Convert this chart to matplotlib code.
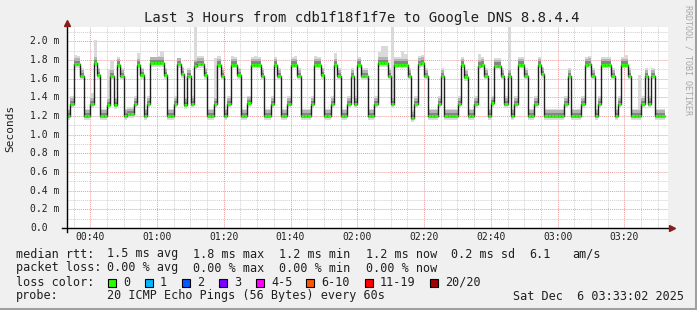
import numpy as np
import matplotlib
matplotlib.use('Agg')
import matplotlib.pyplot as plt
import matplotlib.transforms as mtrans
from matplotlib.patches import Rectangle

W, H = 697, 310
plt.rcParams['font.family'] = 'DejaVu Sans Mono'

# median rtt per minute (ms), first sample starts at 00:33:03
median = [1.20, 1.33, 1.76, 1.76, 1.63, 1.20, 1.20, 1.33, 1.77, 1.64,
          1.20, 1.20, 1.32, 1.63, 1.32, 1.75, 1.63, 1.20, 1.22, 1.22,
          1.33, 1.75, 1.64, 1.20, 1.33, 1.77, 1.77, 1.77, 1.77, 1.64,
          1.20, 1.20, 1.33, 1.76, 1.65, 1.32, 1.63, 1.33, 1.74, 1.76,
          1.76, 1.64, 1.20, 1.20, 1.33, 1.75, 1.63, 1.20, 1.33, 1.75,
          1.75, 1.64, 1.20, 1.20, 1.34, 1.75, 1.75, 1.75, 1.63, 1.20,
          1.20, 1.33, 1.75, 1.63, 1.20, 1.20, 1.33, 1.75, 1.75, 1.63,
          1.20, 1.20, 1.20, 1.33, 1.75, 1.75, 1.64, 1.20, 1.20, 1.33,
          1.75, 1.63, 1.20, 1.20, 1.33, 1.63, 1.33, 1.75, 1.63, 1.63,
          1.20, 1.20, 1.33, 1.77, 1.77, 1.77, 1.63, 1.33, 1.75, 1.75,
          1.75, 1.75, 1.63, 1.18, 1.33, 1.76, 1.77, 1.63, 1.20, 1.20,
          1.20, 1.33, 1.63, 1.20, 1.20, 1.20, 1.20, 1.33, 1.75, 1.62,
          1.20, 1.20, 1.33, 1.74, 1.75, 1.63, 1.20, 1.34, 1.74, 1.74,
          1.63, 1.33, 1.63, 1.20, 1.33, 1.75, 1.75, 1.63, 1.20, 1.20,
          1.33, 1.75, 1.65, 1.20, 1.20, 1.20, 1.20, 1.20, 1.20, 1.33,
          1.63, 1.20, 1.20, 1.20, 1.33, 1.75, 1.76, 1.63, 1.20, 1.33,
          1.75, 1.75, 1.75, 1.63, 1.20, 1.33, 1.75, 1.75, 1.63, 1.20,
          1.20, 1.20, 1.33, 1.63, 1.33, 1.63, 1.20, 1.20, 1.20]
t_start = 33.05   # minutes after midnight
step = 1.0

# highest ping of the smoke where it sticks out (sample index -> ms)
spike_idx = [2, 7, 8, 12, 13, 15, 21, 25, 26, 27, 28, 33, 38, 44, 45, 49,
             56, 62, 68, 74, 80, 93, 94, 95, 97, 100, 101, 123, 132, 150,
             167, 171, 173]
spike_top = [1.85, 1.45, 2.01, 1.70, 1.80, 1.83, 1.88, 1.83, 1.83, 1.84,
             1.90, 1.82, 2.20, 1.82, 1.84, 1.84, 1.84, 1.83, 1.84, 1.84,
             1.88, 1.89, 1.95, 1.95, 2.20, 1.90, 1.86, 1.87, 2.20, 1.71,
             1.85, 1.64, 1.71]

ytick_vals = [0.0, 0.2, 0.4, 0.6, 0.8, 1.0, 1.2, 1.4, 1.6, 1.8, 2.0]
ytick_labels = ['0.0', '0.2 m', '0.4 m', '0.6 m', '0.8 m', '1.0 m',
                '1.2 m', '1.4 m', '1.6 m', '1.8 m', '2.0 m']
xtick_vals = [40, 60, 80, 100, 120, 140, 160, 180, 200]
xtick_labels = ['00:40', '01:00', '01:20', '01:40', '02:00', '02:20',
                '02:40', '03:00', '03:20']

loss_labels = ['0', '1', '2', '3', '4-5', '6-10', '11-19', '20/20']
loss_colors = ['#26ff00', '#00b8ff', '#0059ff', '#7e00ff', '#ff00ff',
               '#ff5500', '#ff0000', '#a00000']
loss_box_x = [108, 145, 182, 219, 256, 306, 365, 430]

med = np.array(median)
edges = t_start + step * np.arange(len(med) + 1)
top = med + 0.08
top[spike_idx] = spike_top

fig = plt.figure(figsize=(W / 100, H / 100), dpi=100, facecolor='#f0f0f0')
ax = fig.add_axes([67 / W, 1 - 228 / H, 601 / W, 201 / H])
ax.set_facecolor('white')
ax.set_xlim(t_start, t_start + 180)
ax.set_ylim(0, 201 / 93.3)
for s in ax.spines.values():
    s.set_visible(False)
ax.set_xticks([])
ax.set_yticks([])

# grid
dot = (0, (1, 1))
for v in np.arange(0.1, 2.15, 0.2):
    ax.axhline(v, color='#cfcfcf', lw=0.7, ls=dot, zorder=0)
for v in ytick_vals[1:]:
    ax.axhline(v, color='#eb9c9c', lw=0.7, ls=dot, zorder=0)
for m in range(35, 215, 5):
    if m % 20:
        ax.axvline(m, color='#cfcfcf', lw=0.7, ls=dot, zorder=0)
for m in xtick_vals:
    ax.axvline(m, color='#eb9c9c', lw=0.7, ls=dot, zorder=0)

# smoke
ax.stairs(top, edges, baseline=med - 0.04, fill=True, color='#dadada',
          lw=0, zorder=1)
ax.stairs(med + 0.06, edges, baseline=med - 0.02, fill=True,
          color='#b4b4b4', lw=0, zorder=2)
ax.stairs(med + 0.035, edges, baseline=med, fill=True, color='#858585',
          lw=0, zorder=3)

# median + loss colour
ax.stairs(med, edges, baseline=None, color='#202020', lw=1.0, zorder=4)
ax.hlines(med, edges[:-1], edges[1:], color=loss_colors[0], lw=2.2,
          zorder=5)

# axes with arrows
ax.plot([0, 0], [-0.02, 1.01], transform=ax.transAxes, color='black',
        lw=1.0, clip_on=False, zorder=6)
ax.plot([-0.008, 1.004], [0, 0], transform=ax.transAxes, color='black',
        lw=1.0, clip_on=False, zorder=6)
ax.plot([0], [1.02], transform=ax.transAxes, marker='^', ms=4,
        color='#8b1a1a', clip_on=False, zorder=7)
ax.plot([1.007], [0], transform=ax.transAxes, marker='>', ms=4,
        color='#8b1a1a', clip_on=False, zorder=7)

# tick labels
ty = mtrans.blended_transform_factory(fig.transFigure, ax.transData)
for v, lab in zip(ytick_vals, ytick_labels):
    ax.text(30 / W, v, lab, transform=ty, ha='left', va='center',
            fontsize=7, color='#202020')
tx = mtrans.blended_transform_factory(ax.transData, fig.transFigure)
for v, lab in zip(xtick_vals, xtick_labels):
    ax.text(v, 1 - 237 / H, lab, transform=tx, ha='center', va='center',
            fontsize=7, color='#202020')


def ftext(x, y, s, **kw):
    kw.setdefault('fontsize', 8.5)
    kw.setdefault('color', '#202020')
    fig.text(x / W, 1 - y / H, s, va='center', **kw)


ftext(362, 18, 'Last 3 Hours from cdb1f18f1f7e to Google DNS 8.8.4.4',
      fontsize=10, ha='center')
ftext(10, 128, 'Seconds', fontsize=8, rotation=90, ha='center')
ftext(688, 60, 'RRDTOOL / TOBI OETIKER', fontsize=6, rotation=270,
      ha='center', color='#a8a8a8')

ftext(16, 254, 'median rtt:')
for x, s in zip([107, 193, 279, 366, 451, 529, 572],
                ['1.5 ms avg', '1.8 ms max', '1.2 ms min', '1.2 ms now',
                 '0.2 ms sd', '6.1', 'am/s']):
    ftext(x, 254, s)
ftext(16, 268, 'packet loss:')
for x, s in zip([107, 193, 279, 366],
                ['0.00 % avg', '0.00 % max', '0.00 % min', '0.00 % now']):
    ftext(x, 268, s)
ftext(16, 282, 'loss color:')
for x, lab, c in zip(loss_box_x, loss_labels, loss_colors):
    fig.patches.append(Rectangle((x / W, 1 - 286.5 / H), 8 / W, 8 / H,
                                 transform=fig.transFigure, fc=c,
                                 ec='black', lw=0.8))
    ftext(x + 15, 282, lab)
ftext(16, 296, 'probe:')
ftext(107, 296, '20 ICMP Echo Pings (56 Bytes) every 60s')
ftext(513, 296, 'Sat Dec  6 03:33:02 2025')

# frame shading
fig.add_artist(plt.Line2D([0, 1], [1 - 308.5 / H] * 2, color='#a0a0a0',
                          lw=2.2, transform=fig.transFigure))
fig.add_artist(plt.Line2D([1 - 1.5 / W] * 2, [0, 1], color='#a0a0a0',
                          lw=2.2, transform=fig.transFigure))

fig.savefig('out.png', dpi=100, facecolor=fig.get_facecolor())
